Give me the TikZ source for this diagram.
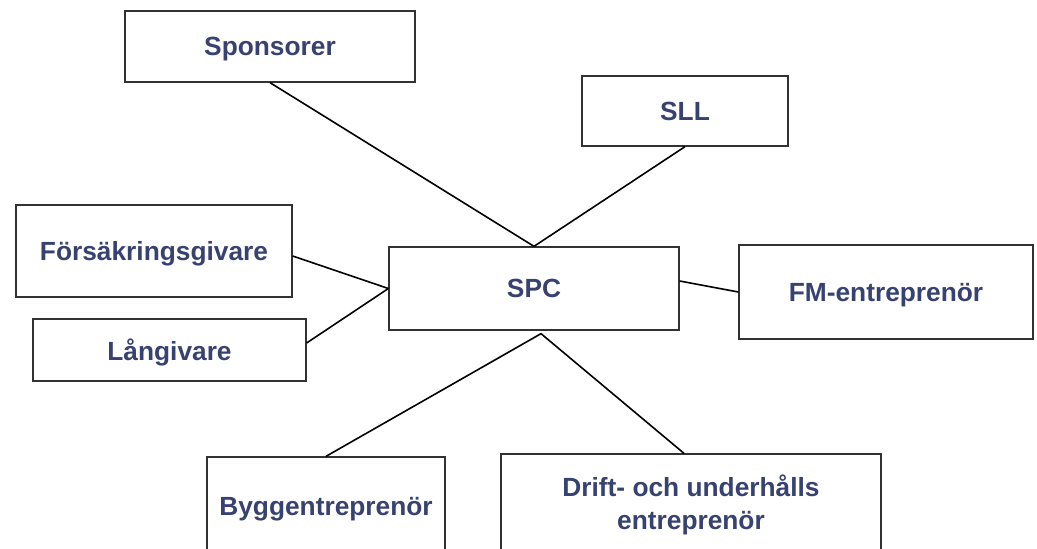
\documentclass[tikz,border=0pt]{standalone}
\usepackage{fontspec}
\setmainfont{Liberation Sans}
\definecolor{txtblue}{RGB}{55,66,112}
\definecolor{edgegray}{RGB}{50,50,50}
\tikzset{
  box/.style={draw=edgegray, line width=1.3pt, fill=white, rectangle, inner sep=0pt,
    font=\fontsize{26.3}{33}\selectfont\bfseries, text=txtblue, align=center},
  oneline/.style={text depth=0pt},
  link/.style={draw=black, line width=1.6pt}
}
\begin{document}
\begin{tikzpicture}[x=1pt,y=-1pt]
\useasboundingbox (0,0) rectangle (1037,549);
\clip (0,0) rectangle (1037,549);
\fill[white] (0,0) rectangle (1037,549);
\node[box, oneline, minimum width=290pt, minimum height=71pt] (spons) at (270,46.5) {Sponsorer};
\node[box, oneline, minimum width=206pt, minimum height=70pt] (sll) at (685,111) {SLL};
\node[box, oneline, minimum width=276pt, minimum height=92pt] (fors) at (154,251) {Försäkringsgivare};
\node[box, oneline, minimum width=290pt, minimum height=83pt] (spc) at (534,288.5) {SPC};
\node[box, oneline, minimum width=294pt, minimum height=94pt] (fm) at (886,292) {FM-entreprenör};
\node[box, oneline, minimum width=273pt, minimum height=62pt] (lang) at (169.5,350) {Långivare};
\node[box, oneline, minimum width=238pt, minimum height=98pt] (bygg) at (326,506) {Byggentreprenör};
\node[box, minimum width=380pt, minimum height=102pt] (drift) at (691,505) {Drift- och underhålls\\entreprenör};
\coordinate (apex) at ([xshift=7pt,yshift=-3pt]spc.south);
\draw[link] (spons.south) -- (spc.north);
\draw[link] (sll.south) -- (spc.north);
\draw[link] ([yshift=-5pt]fors.east) -- (spc.west);
\draw[link] ([yshift=7pt]lang.east) -- (spc.west);
\draw[link] ([yshift=7.5pt]spc.east) -- (fm.west);
\draw[link] (apex) -- (bygg.north);
\draw[link] (apex) -- ([xshift=-7pt]drift.north);
\end{tikzpicture}
\end{document}
